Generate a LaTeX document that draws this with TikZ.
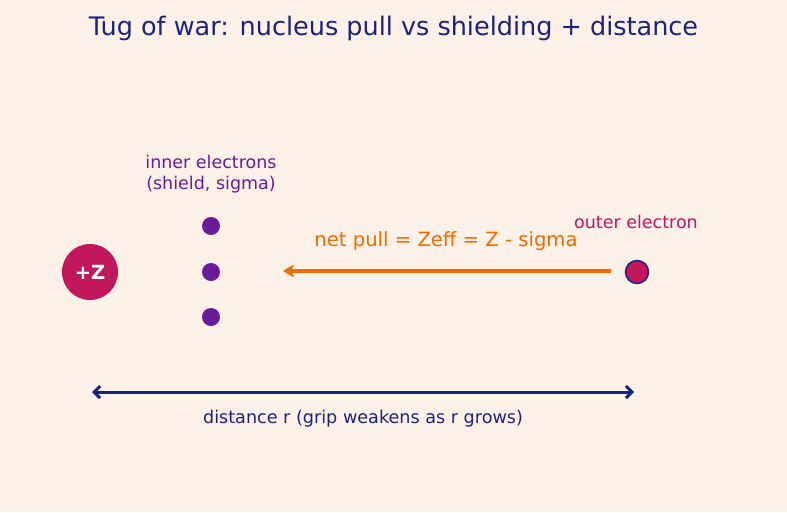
\documentclass[tikz,border=0pt]{standalone}
\usepackage{fontspec}
\setmainfont{DejaVu Sans}
\usetikzlibrary{arrows.meta}
\definecolor{bg}{HTML}{FEF1E7}
\definecolor{navy}{HTML}{1A237E}
\definecolor{crim}{HTML}{C2185B}
\definecolor{purp}{HTML}{6A1B9A}
\definecolor{orng}{HTML}{EF6C00}
\tikzset{
  electron/.style={circle,fill=purp,minimum size=18pt,inner sep=0pt},
  lbl/.style={font=\fontsize{17.5}{21}\selectfont,align=center,inner sep=0pt},
}
\begin{document}
\begin{tikzpicture}[x=1pt,y=-1pt]
\fill[bg] (0,0) rectangle (787,512);
\useasboundingbox (0,0) rectangle (787,512);
\node[text=navy,font=\fontsize{25.5}{28}\selectfont] (title) at (393.5,28) {Tug of war: nucleus pull vs shielding + distance};
\node[circle,fill=crim,minimum size=56pt,inner sep=0pt,text=white,font=\bfseries\fontsize{19.5}{22}\selectfont] (nuc) at (90,272) {+Z};
\node[electron] (e1) at (211,226) {};
\node[electron] (e2) at (211,272) {};
\node[electron] (e3) at (211,317) {};
\node[lbl,text=purp] (inner) at (211,174) {inner electrons\\(shield, sigma)};
\node[circle,fill=crim,draw=navy,line width=1.5pt,minimum size=23pt,inner sep=0pt] (out) at (637,272) {};
\node[lbl,text=crim] (outl) at (636,222) {outer electron};
\coordinate (as) at (611,271);
\coordinate (ae) at (283,271);
\draw[orng,line width=4.5pt,-{Stealth[length=11pt,width=13pt,inset=3pt]}] (as) -- (ae);
\node[lbl,text=orng,font=\fontsize{19.6}{22}\selectfont] (pull) at (446,241) {net pull = Zeff = Z - sigma};
\coordinate (d1) at (92,392);
\coordinate (d2) at (634,392);
\draw[navy,line width=3pt,{Straight Barb[length=6pt,width=12pt]}-{Straight Barb[length=6pt,width=12pt]}] (d1) -- (d2);
\node[lbl,text=navy,font=\fontsize{17.6}{20}\selectfont] (dist) at (363,419) {distance r (grip weakens as r grows)};
\end{tikzpicture}
\end{document}
